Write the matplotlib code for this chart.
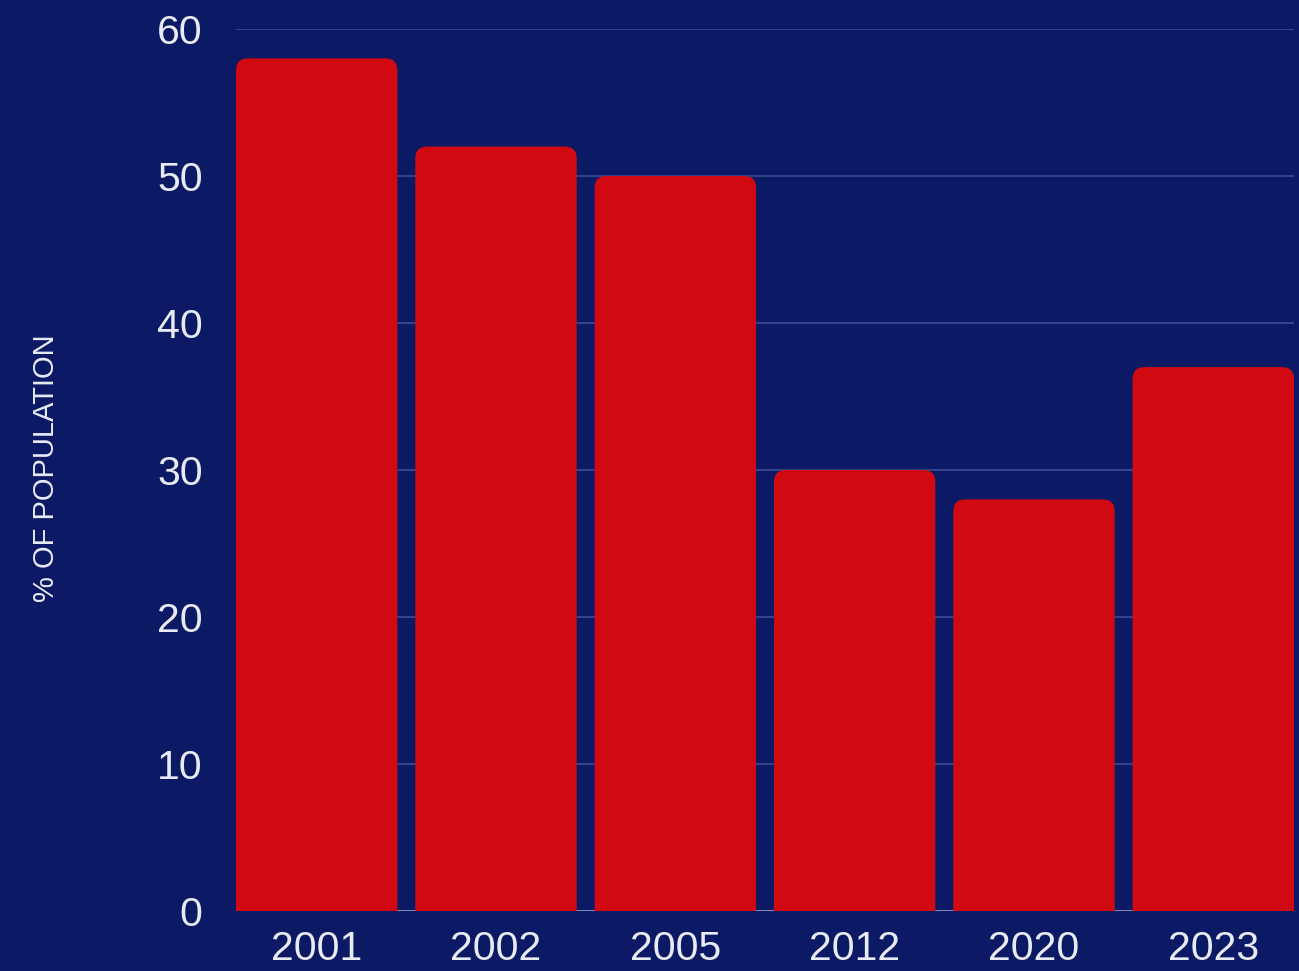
import matplotlib
matplotlib.use("Agg")
import matplotlib.pyplot as plt
from matplotlib.path import Path
from matplotlib.patches import PathPatch

years = ["2001", "2002", "2005", "2012", "2020", "2023"]
values = [58, 52, 50, 30, 28, 37]
yticks = [0, 10, 20, 30, 40, 50, 60]
ylabel = "% OF POPULATION"

BG = "#0c1a66"
BAR = "#d10a11"
TXT = "#e8ebf4"
GRID = "#3a4890"

plt.rcParams['font.family'] = ['Liberation Sans', 'DejaVu Sans']

W, H = 1299, 971
fig = plt.figure(figsize=(W / 100, H / 100), dpi=100, facecolor=BG)
ax = fig.add_axes([236 / W, 1 - 911 / H, (1294 - 236) / W, (911 - 29) / H])
ax.set_facecolor(BG)

x = list(range(len(years)))
ax.set_xlim(-0.45, len(years) - 1 + 0.45)
ax.set_ylim(0, 60)

bars = ax.bar(x, values, width=0.9, color=BAR, zorder=2)

# rounded top corners
r_px = 12
xr = ax.get_xlim()[1] - ax.get_xlim()[0]
yr = ax.get_ylim()[1] - ax.get_ylim()[0]
rx = r_px * xr / ax.bbox.width
ry = r_px * yr / ax.bbox.height
for rect in bars.patches:
    x0 = rect.get_x()
    w = rect.get_width()
    h = rect.get_height()
    x1 = x0 + w
    verts = [(x0, 0), (x0, h - ry), (x0, h), (x0 + rx, h), (x1 - rx, h),
             (x1, h), (x1, h - ry), (x1, 0), (x0, 0)]
    codes = [Path.MOVETO, Path.LINETO, Path.CURVE3, Path.CURVE3, Path.LINETO,
             Path.CURVE3, Path.CURVE3, Path.LINETO, Path.CLOSEPOLY]
    rect.set_visible(False)
    ax.add_patch(PathPatch(Path(verts, codes), facecolor=BAR, edgecolor='none', zorder=2))

ax.set_yticks(yticks)
ax.set_yticklabels([str(t) for t in yticks])
ax.set_xticks(x)
ax.set_xticklabels(years)
ax.grid(axis='y', color=GRID, linewidth=1.3, zorder=0)
ax.set_axisbelow(True)
ax.axhline(0, color="#8890b8", linewidth=1.3, zorder=1)

for s in ax.spines.values():
    s.set_visible(False)
ax.tick_params(axis='both', length=0, colors=TXT, labelsize=29.5)
ax.tick_params(axis='y', pad=24)
ax.tick_params(axis='x', pad=14)

fig.text(46 / W, 1 - 468 / H, ylabel, rotation=90, color=TXT, fontsize=21,
         ha='center', va='center')

fig.savefig("out.png", dpi=100, facecolor=BG)
